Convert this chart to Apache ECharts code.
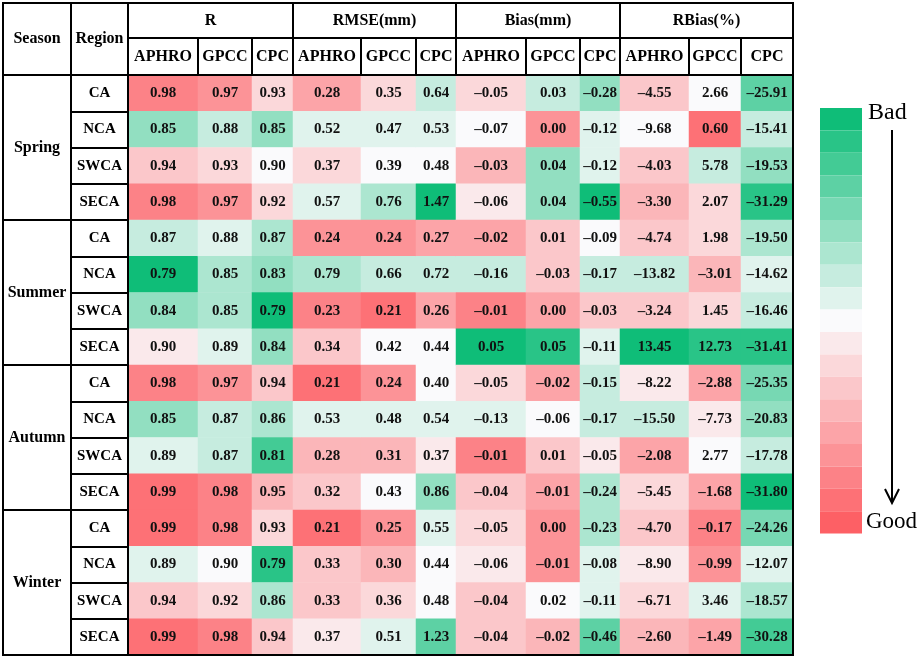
<!DOCTYPE html>
<html>
<head>
<meta charset="utf-8">
<script src="https://cdn.jsdelivr.net/npm/echarts@6/dist/echarts.min.js"></script>
<style>html,body{margin:0;padding:0;background:#fff}#c{width:920px;height:663px}</style>
</head>
<body>
<div id="c"></div>
<script>
const seasons = ['Spring', 'Summer', 'Autumn', 'Winter'];
const regions = ['CA', 'NCA', 'SWCA', 'SECA'];
const metrics = ['R', 'RMSE(mm)', 'Bias(mm)', 'RBias(%)'];
const products = ['APHRO', 'GPCC', 'CPC'];

// values: 16 rows (season x region) x 3 products
const rValues = [
  [0.98,0.97,0.93],[0.85,0.88,0.85],[0.94,0.93,0.90],[0.98,0.97,0.92],
  [0.87,0.88,0.87],[0.79,0.85,0.83],[0.84,0.85,0.79],[0.90,0.89,0.84],
  [0.98,0.97,0.94],[0.85,0.87,0.86],[0.89,0.87,0.81],[0.99,0.98,0.95],
  [0.99,0.98,0.93],[0.89,0.90,0.79],[0.94,0.92,0.86],[0.99,0.98,0.94]
];
const rmseValues = [
  [0.28,0.35,0.64],[0.52,0.47,0.53],[0.37,0.39,0.48],[0.57,0.76,1.47],
  [0.24,0.24,0.27],[0.79,0.66,0.72],[0.23,0.21,0.26],[0.34,0.42,0.44],
  [0.21,0.24,0.40],[0.53,0.48,0.54],[0.28,0.31,0.37],[0.32,0.43,0.86],
  [0.21,0.25,0.55],[0.33,0.30,0.44],[0.33,0.36,0.48],[0.37,0.51,1.23]
];
const biasValues = [
  [-0.05,0.03,-0.28],[-0.07,0.00,-0.12],[-0.03,0.04,-0.12],[-0.06,0.04,-0.55],
  [-0.02,0.01,-0.09],[-0.16,-0.03,-0.17],[-0.01,0.00,-0.03],[0.05,0.05,-0.11],
  [-0.05,-0.02,-0.15],[-0.13,-0.06,-0.17],[-0.01,0.01,-0.05],[-0.04,-0.01,-0.24],
  [-0.05,0.00,-0.23],[-0.06,-0.01,-0.08],[-0.04,0.02,-0.11],[-0.04,-0.02,-0.46]
];
const rbiasValues = [
  [-4.55,2.66,-25.91],[-9.68,0.60,-15.41],[-4.03,5.78,-19.53],[-3.30,2.07,-31.29],
  [-4.74,1.98,-19.50],[-13.82,-3.01,-14.62],[-3.24,1.45,-16.46],[13.45,12.73,-31.41],
  [-8.22,-2.88,-25.35],[-15.50,-7.73,-20.83],[-2.08,2.77,-17.78],[-5.45,-1.68,-31.80],
  [-4.70,-0.17,-24.26],[-8.90,-0.99,-12.07],[-6.71,3.46,-18.57],[-2.60,-1.49,-30.28]
];

// colour level: -9 (Good, red) ... 0 (white) ... +9 (Bad, green)
const rLevels = [
  [-7,-6,-2],[4,2,4],[-3,-2,0],[-7,-6,-2],
  [2,1,3],[9,3,4],[4,3,9],[-1,1,4],
  [-7,-6,-3],[4,2,3],[1,2,7],[-8,-7,-4],
  [-8,-7,-2],[1,0,8],[-3,-2,3],[-8,-7,-3]
];
const rmseLevels = [
  [-5,-2,2],[1,1,1],[-2,0,0],[1,3,9],
  [-6,-6,-5],[3,2,2],[-7,-8,-5],[-3,0,0],
  [-8,-6,0],[1,1,1],[-4,-4,-1],[-3,0,4],
  [-8,-6,1],[-3,-4,0],[-3,-2,0],[-1,1,6]
];
const biasLevels = [
  [-2,2,4],[0,-6,1],[-4,4,1],[-1,4,9],
  [-5,-3,0],[2,-3,2],[-7,-5,-3],[9,8,1],
  [-2,-5,2],[1,0,2],[-7,-3,-1],[-3,-5,3],
  [-2,-6,3],[-1,-6,1],[-3,0,1],[-3,-4,6]
];
const rbiasLevels = [
  [-3,0,6],[0,-8,2],[-3,2,4],[-4,-2,8],
  [-3,-2,3],[2,-4,1],[-3,-2,2],[9,8,8],
  [-1,-5,5],[2,-1,4],[-5,0,2],[-2,-5,9],
  [-3,-7,5],[-1,-6,1],[-2,1,3],[-4,-5,7]
];

const valueTables = [rValues, rmseValues, biasValues, rbiasValues];
const levelTables = [rLevels, rmseLevels, biasLevels, rbiasLevels];

// ---------- layout / style ----------
const FONT = '"Liberation Serif", "Times New Roman", serif';
const TOP = 3, HEAD_MID = 38, HEAD_BOT = 75, BOTTOM = 655;
const colEdges = [128,198,252,293,361,416,456,526,580,620,689,741,793];
const seasonX = [3, 71], regionX = [71, 128];
const GREEN = [15,189,120], WHITE = [250,250,252], RED = [253,96,101];

function mix(a, b, t) {
  return 'rgb(' + a.map((v, i) => Math.round(v + (b[i] - v) * t)).join(',') + ')';
}
const pieces = [];
for (let k = -9; k <= 9; k++) {
  const color = k < 0 ? mix(WHITE, RED, -k / 9) : mix(WHITE, GREEN, k / 9);
  pieces.push({ value: k, color: color });
}

const rowNames = [];
seasons.forEach(s => regions.forEach(r => rowNames.push(r)));

function fmt(v) {
  return (v < 0 ? '\u2013' : '') + Math.abs(v).toFixed(2);
}

const grids = [], xAxes = [], yAxes = [], series = [];
const H = BOTTOM - HEAD_BOT;

// season column
grids.push({ left: seasonX[0], width: seasonX[1] - seasonX[0], top: HEAD_BOT, height: H });
xAxes.push({ gridIndex: 0, type: 'category', data: [''], show: false });
yAxes.push({
  gridIndex: 0, type: 'category', data: seasons, inverse: true,
  axisLine: { show: false }, axisTick: { show: false },
  axisLabel: { inside: true, margin: (seasonX[1] - seasonX[0]) / 2, align: 'center',
    fontFamily: FONT, fontWeight: 'bold', fontSize: 16, color: '#000' },
  splitLine: { show: true, lineStyle: { color: '#000', width: 2 } }
});
// region column
grids.push({ left: regionX[0], width: regionX[1] - regionX[0], top: HEAD_BOT, height: H });
xAxes.push({ gridIndex: 1, type: 'category', data: [''], show: false });
yAxes.push({
  gridIndex: 1, type: 'category', data: rowNames, inverse: true,
  axisLine: { show: false }, axisTick: { show: false },
  axisLabel: { inside: true, margin: (regionX[1] - regionX[0]) / 2, align: 'center',
    fontFamily: FONT, fontWeight: 'bold', fontSize: 15, color: '#000' },
  splitLine: { show: true, lineStyle: { color: '#000', width: 2 } }
});

// data columns
for (let m = 0; m < 4; m++) {
  for (let p = 0; p < 3; p++) {
    const j = m * 3 + p;
    const gi = j + 2;
    grids.push({ left: colEdges[j], width: colEdges[j + 1] - colEdges[j], top: HEAD_BOT, height: H });
    xAxes.push({
      gridIndex: gi, type: 'category', data: [products[p]], position: 'top',
      axisLine: { show: false }, axisTick: { show: false },
      axisLabel: { margin: (HEAD_BOT - HEAD_MID) / 2, verticalAlign: 'middle',
        fontFamily: FONT, fontWeight: 'bold', fontSize: 16, color: '#000' }
    });
    yAxes.push({ gridIndex: gi, type: 'category', data: rowNames, inverse: true, show: false });
    const data = [];
    for (let r = 0; r < 16; r++) {
      data.push([0, r, levelTables[m][r][p], valueTables[m][r][p]]);
    }
    series.push({
      type: 'heatmap', xAxisIndex: gi, yAxisIndex: gi, data: data,
      label: { show: true, formatter: prm => fmt(prm.data[3]),
        fontFamily: FONT, fontWeight: 'bold', fontSize: 15, color: '#111' },
      emphasis: { disabled: true }
    });
  }
}

// table lines and header text
const g = [];
function line(x1, y1, x2, y2, w) {
  g.push({ type: 'line', z: 100, shape: { x1, y1, x2, y2 }, style: { stroke: '#000', lineWidth: w || 2 } });
}
function text(t, x, y, size, weight, align) {
  g.push({ type: 'text', z: 100, x: x, y: y,
    style: { text: t, align: align || 'center', verticalAlign: 'middle',
      fontFamily: FONT, fontSize: size, fontWeight: weight || 'bold', fill: '#000' } });
}
g.push({ type: 'rect', z: 100, shape: { x: 3, y: TOP, width: 793 - 3, height: BOTTOM - TOP },
  style: { fill: 'none', stroke: '#000', lineWidth: 2 } });
line(seasonX[1], TOP, seasonX[1], BOTTOM);
line(regionX[1], TOP, regionX[1], BOTTOM);
line(3, HEAD_BOT, 793, HEAD_BOT);
line(colEdges[0], HEAD_MID, 793, HEAD_MID);
for (let j = 1; j < 12; j++) {
  line(colEdges[j], j % 3 === 0 ? TOP : HEAD_MID, colEdges[j], HEAD_BOT);
}
text('Season', (seasonX[0] + seasonX[1]) / 2, (TOP + HEAD_BOT) / 2, 16);
text('Region', (regionX[0] + regionX[1]) / 2, (TOP + HEAD_BOT) / 2, 16);
for (let m = 0; m < 4; m++) {
  text(metrics[m], (colEdges[m * 3] + colEdges[m * 3 + 3]) / 2, (TOP + HEAD_MID) / 2, 16);
}

// legend annotations
text('Bad', 868, 113, 24, 'normal', 'left');
text('Good', 866, 522, 23, 'normal', 'left');
line(892, 130, 892, 502, 2);
g.push({ type: 'polyline', z: 100, shape: { points: [[885, 489], [892, 503], [899, 489]] },
  style: { fill: 'none', stroke: '#000', lineWidth: 2 } });

const option = {
  animation: false,
  backgroundColor: '#fff',
  grid: grids, xAxis: xAxes, yAxis: yAxes, series: series,
  visualMap: {
    type: 'piecewise', dimension: 2, seriesIndex: series.map((s, i) => i),
    pieces: pieces, orient: 'vertical', left: 820, top: 108, padding: 0,
    itemWidth: 42, itemHeight: 425.6 / 19, itemGap: 0, itemSymbol: 'rect',
    showLabel: false, selectedMode: false, hoverLink: false
  },
  graphic: { elements: g }
};
const chart = echarts.init(document.getElementById('c'), null, { renderer: 'canvas' });
chart.setOption(option);
</script>
</body>
</html>
